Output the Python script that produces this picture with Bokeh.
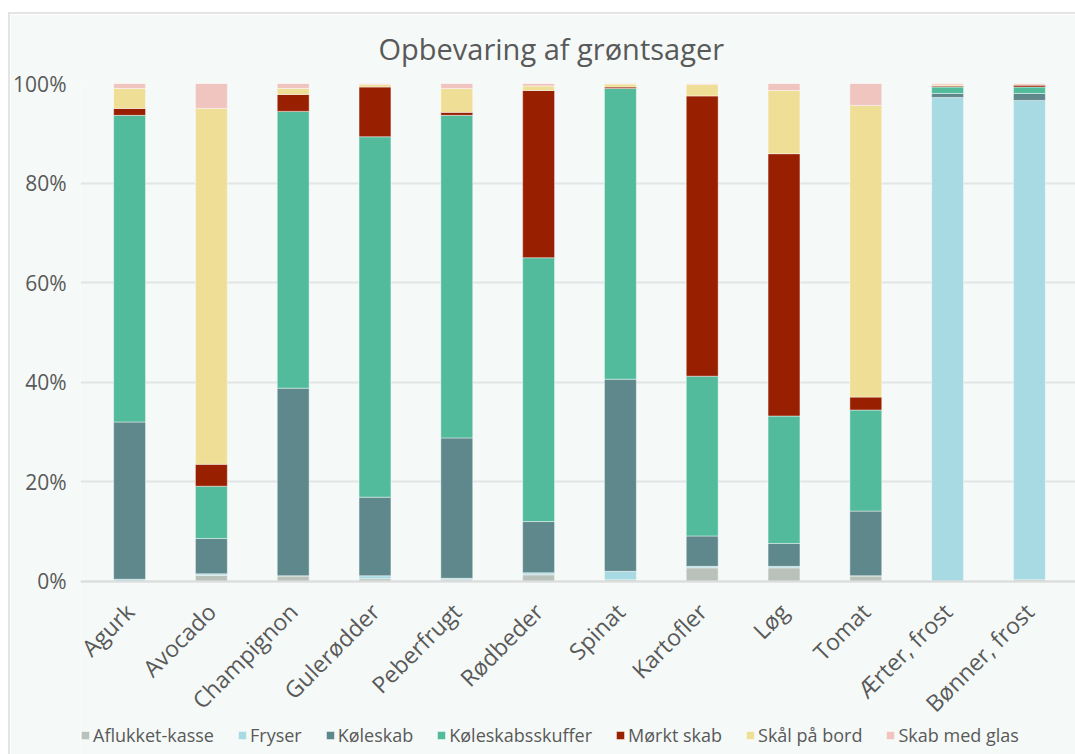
from bokeh.plotting import figure
from bokeh.models import FactorRange, Range1d, FixedTicker, PrintfTickFormatter, Legend, Title
from bokeh.embed import file_html
from bokeh.resources import INLINE

FONT = "Open Sans"
TEXT = "#595959"

categories = ["Agurk", "Avocado", "Champignon", "Gulerødder", "Peberfrugt", "Rødbeder",
              "Spinat", "Kartofler", "Løg", "Tomat", "Ærter, frost", "Bønner, frost"]

series = ["Aflukket-kasse", "Fryser", "Køleskab", "Køleskabsskuffer",
          "Mørkt skab", "Skål på bord", "Skab med glas"]

# share of respondents (%) per storage place
aflukket_kasse   = [0.0, 1.2, 1.1, 0.5, 0.3, 1.3, 0.3, 2.7, 2.7, 1.1, 0.0, 0.3]
fryser           = [0.4, 0.3, 0.0, 0.6, 0.3, 0.4, 1.7, 0.3, 0.3, 0.0, 97.2, 96.3]
koeleskab        = [31.6, 7.1, 37.7, 15.8, 28.2, 10.3, 38.6, 6.1, 4.6, 13.0, 0.8, 1.4]
koeleskabsskuffer = [61.6, 10.5, 55.6, 72.4, 64.8, 53.0, 58.4, 32.1, 25.6, 20.3, 1.3, 1.3]
moerkt_skab      = [1.4, 4.4, 3.4, 10.0, 0.6, 33.6, 0.3, 56.3, 52.7, 2.6, 0.2, 0.4]
skaal_paa_bord   = [4.0, 71.5, 1.2, 0.5, 4.8, 0.9, 0.6, 2.3, 12.7, 58.6, 0.2, 0.0]
skab_med_glas    = [1.0, 5.0, 1.0, 0.2, 1.0, 0.5, 0.1, 0.2, 1.4, 4.4, 0.3, 0.3]

y_ticks = [0, 20, 40, 60, 80, 100]

colors = ["#b8c2ba", "#a8dae3", "#5f888c", "#52bb9b", "#982000", "#efde96", "#f0c5bf"]

data = {"cat": categories}
for name, vals in zip(series, [aflukket_kasse, fryser, koeleskab, koeleskabsskuffer,
                               moerkt_skab, skaal_paa_bord, skab_med_glas]):
    data[name] = vals

# the frame runs down to the bottom edge so the legend can sit inside it;
# the category axis is pinned at 0%
p = figure(
    width=1068, height=742,
    x_range=FactorRange(factors=categories, range_padding=0.1, range_padding_units="absolute"),
    y_range=Range1d(-35.2, 100),
    output_backend="svg", toolbar_location=None,
    background_fill_color="#f5f9f8", border_fill_color="#f5f9f8",
    min_border_left=67, min_border_right=0, min_border_top=60, min_border_bottom=0,
    margin=(12, 0, 0, 8),
)
p.styles = {"border-top": "2px solid #e4e4e4", "border-left": "2px solid #e4e4e4"}
p.outline_line_color = None

title = Title(text="Opbevaring af grøntsager", align="left", offset=298,
              vertical_align="top",
              text_font=FONT, text_font_size="29px", text_font_style="normal",
              text_color=TEXT, standoff=28)
p.add_layout(title, "above")

renderers = p.vbar_stack(series, x="cat", width=0.39, source=data, color=colors,
                         line_color="#ffffff", line_alpha=0.55, line_width=0.8)

p.yaxis.ticker = FixedTicker(ticks=y_ticks)
p.yaxis.formatter = PrintfTickFormatter(format="%d%%")
p.yaxis.axis_line_color = None
p.yaxis.major_tick_line_color = None
p.yaxis.minor_tick_line_color = None
p.yaxis.major_label_text_font = FONT
p.yaxis.major_label_text_font_size = "21px"
p.yaxis.major_label_text_color = TEXT
p.yaxis.major_label_standoff = 8

# pad the slanted category labels so their ends sit just under each bar
p.xaxis.fixed_location = 0
p.xaxis.major_label_overrides = {c: c + "\u00a0\u00a0" for c in categories}
p.xaxis.axis_line_color = "#dcdede"
p.xaxis.axis_line_width = 2
p.xaxis.major_tick_line_color = None
p.xaxis.minor_tick_line_color = None
p.xaxis.major_label_orientation = 0.785398
p.xaxis.major_label_text_font = FONT
p.xaxis.major_label_text_font_size = "23px"
p.xaxis.major_label_text_color = TEXT
p.xaxis.major_label_standoff = 20

p.xgrid.grid_line_color = None
p.ygrid.ticker = FixedTicker(ticks=y_ticks)
p.ygrid.grid_line_color = "#e3e5e5"
p.ygrid.grid_line_width = 2

legend = Legend(
    items=[(name, [r]) for name, r in zip(series, renderers)],
    orientation="horizontal", location=(0, 9),
    label_text_font=FONT, label_text_font_size="18px", label_text_color=TEXT,
    glyph_width=10, glyph_height=10, label_standoff=3, spacing=23,
    padding=0, margin=0, border_line_color=None, background_fill_alpha=0,
)
p.add_layout(legend, "center")

open("out.html", "w").write(file_html(p, INLINE))
